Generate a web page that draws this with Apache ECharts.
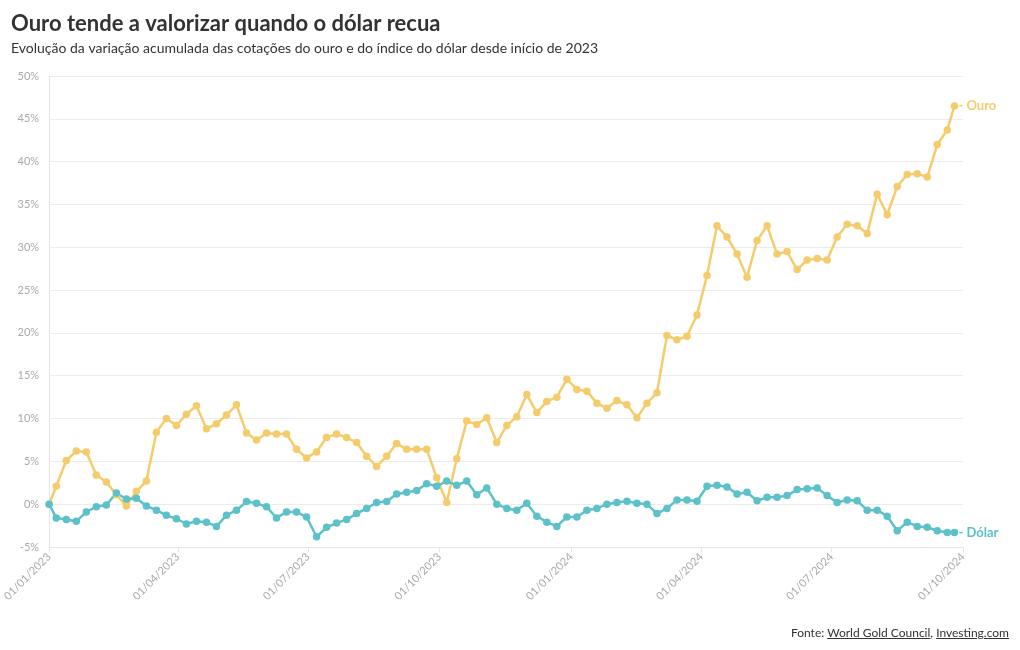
<!DOCTYPE html>
<html>
<head>
<meta charset="utf-8">
<script src="https://cdn.jsdelivr.net/npm/echarts@6/dist/echarts.min.js"></script>
<style>
html,body{margin:0;padding:0;background:#fff;}
#chart{width:1020px;height:650px;}
#src{position:absolute;right:11px;top:625px;font-family:Lato,sans-serif;font-size:12px;color:#333;}
#src u{text-decoration:underline;}
</style>
</head>
<body>
<div id="chart"></div>
<div id="src">Fonte: <u>World Gold Council</u>, <u>Investing.com</u></div>
<script>
const dates = [
"2023-01-01",
"2023-01-06","2023-01-13","2023-01-20","2023-01-27",
"2023-02-03","2023-02-10","2023-02-17","2023-02-24",
"2023-03-03","2023-03-10","2023-03-17","2023-03-24","2023-03-31",
"2023-04-07","2023-04-14","2023-04-21","2023-04-28",
"2023-05-05","2023-05-12","2023-05-19","2023-05-26",
"2023-06-02","2023-06-09","2023-06-16","2023-06-23","2023-06-30",
"2023-07-07","2023-07-14","2023-07-21","2023-07-28",
"2023-08-04","2023-08-11","2023-08-18","2023-08-25",
"2023-09-01","2023-09-08","2023-09-15","2023-09-22","2023-09-29",
"2023-10-06","2023-10-13","2023-10-20","2023-10-27",
"2023-11-03","2023-11-10","2023-11-17","2023-11-24",
"2023-12-01","2023-12-08","2023-12-15","2023-12-22","2023-12-29",
"2024-01-05","2024-01-12","2024-01-19","2024-01-26",
"2024-02-02","2024-02-09","2024-02-16","2024-02-23",
"2024-03-01","2024-03-08","2024-03-15","2024-03-22","2024-03-29",
"2024-04-05","2024-04-12","2024-04-19","2024-04-26",
"2024-05-03","2024-05-10","2024-05-17","2024-05-24","2024-05-31",
"2024-06-07","2024-06-14","2024-06-21","2024-06-28",
"2024-07-05","2024-07-12","2024-07-19","2024-07-26",
"2024-08-02","2024-08-09","2024-08-16","2024-08-23","2024-08-30",
"2024-09-06","2024-09-13","2024-09-20",
"2024-09-25"
];
const ouro = [
0, 2.1, 5.1, 6.2, 6.1, 3.4, 2.6, 1.1, -0.2, 1.5, 2.7, 8.4, 10.0, 9.2, 10.5, 11.5, 8.8, 9.4, 10.4, 11.6,
8.3, 7.5, 8.3, 8.2, 8.2, 6.4, 5.4, 6.1, 7.8, 8.2, 7.8, 7.2, 5.6, 4.4, 5.6, 7.1, 6.4, 6.4, 6.4, 3.1,
0.2, 5.3, 9.7, 9.3, 10.1, 7.2, 9.2, 10.2, 12.8, 10.7, 12.0, 12.5, 14.6, 13.4, 13.2, 11.8, 11.2, 12.1, 11.6, 10.1,
11.8, 13.0, 19.7, 19.2, 19.6, 22.1, 26.7, 32.5, 31.2, 29.2, 26.5, 30.8, 32.5, 29.2, 29.5, 27.4, 28.5, 28.7, 28.5, 31.2,
32.7, 32.5, 31.6, 36.2, 33.8, 37.1, 38.5, 38.6, 38.2, 42.0, 43.7, 46.5
];
const dolar = [
0, -1.6, -1.8, -2.0, -0.9, -0.3, -0.1, 1.3, 0.6, 0.7, -0.2, -0.7, -1.3, -1.7, -2.3, -2.0, -2.1, -2.6, -1.3, -0.7,
0.3, 0.1, -0.3, -1.6, -0.9, -0.9, -1.5, -3.8, -2.7, -2.2, -1.8, -1.1, -0.5, 0.2, 0.3, 1.2, 1.4, 1.6, 2.4, 2.1,
2.7, 2.2, 2.7, 1.1, 1.9, 0.0, -0.5, -0.7, 0.1, -1.4, -2.1, -2.6, -1.5, -1.5, -0.7, -0.5, 0.0, 0.2, 0.35, 0.1,
0.0, -1.1, -0.5, 0.5, 0.5, 0.35, 2.1, 2.2, 2.0, 1.2, 1.4, 0.4, 0.8, 0.8, 1.0, 1.7, 1.8, 1.9, 1.0, 0.2,
0.5, 0.4, -0.7, -0.7, -1.4, -3.1, -2.1, -2.6, -2.7, -3.1, -3.3, -3.3
];
const xTicks = ["2023-01-01","2023-04-01","2023-07-01","2023-10-01","2024-01-01","2024-04-01","2024-07-01","2024-10-01"];
const yMin = -5, yMax = 50, yStep = 5;

const GOLD = "#f5cc6c", TEAL = "#5cc1c8";
const FONT = "Lato, sans-serif";
const toTs = d => Date.UTC(+d.slice(0,4), +d.slice(5,7) - 1, +d.slice(8,10));
const tsTicks = xTicks.map(toTs);
const pad = n => (n < 10 ? "0" : "") + n;
const fmtDate = v => { const d = new Date(v); return pad(d.getUTCDate()) + "/" + pad(d.getUTCMonth() + 1) + "/" + d.getUTCFullYear(); };

const chart = echarts.init(document.getElementById("chart"), null, {renderer: "canvas"});
chart.setOption({
  backgroundColor: "#fff",
  animation: false,
  textStyle: {fontFamily: FONT},
  title: [{
    text: "Ouro tende a valorizar quando o dólar recua",
    left: 6, top: 8,
    textStyle: {fontFamily: FONT, fontSize: 22, fontWeight: "bold", color: "#333"}
  }, {
    text: "Evolução da variação acumulada das cotações do ouro e do índice do dólar desde início de 2023",
    left: 6, top: 36,
    textStyle: {fontFamily: FONT, fontSize: 14, fontWeight: "normal", color: "#333"}
  }],
  grid: {left: 48, right: 57, top: 76, bottom: 103, containLabel: false},
  xAxis: {
    type: "value",
    min: tsTicks[0], max: tsTicks[tsTicks.length - 1],
    axisLine: {show: true, onZero: false, lineStyle: {color: "#e6e6e6"}},
    axisTick: {show: true, length: 5, lineStyle: {color: "#e6e6e6"}, customValues: tsTicks},
    splitLine: {show: false},
    axisLabel: {
      customValues: tsTicks,
      rotate: 45, color: "#aaa", fontSize: 11, fontFamily: FONT, margin: 8,
      formatter: v => fmtDate(v)
    }
  },
  yAxis: {
    type: "value", min: yMin, max: yMax, interval: yStep,
    axisLine: {show: true, lineStyle: {color: "#e6e6e6"}},
    axisTick: {show: false},
    splitLine: {lineStyle: {color: "#ececec"}},
    axisLabel: {color: "#aaa", fontSize: 11, fontFamily: FONT, formatter: "{value}%", margin: 10}
  },
  series: [{
    name: "Ouro", type: "line",
    data: dates.map((d, i) => [toTs(d), ouro[i]]),
    symbol: "circle", symbolSize: 7.5,
    lineStyle: {width: 2.5, color: GOLD}, itemStyle: {color: GOLD},
    endLabel: {show: true, formatter: "- Ouro", color: GOLD, fontWeight: "bold", fontSize: 13, fontFamily: FONT, distance: 4}
  }, {
    name: "Dólar", type: "line",
    data: dates.map((d, i) => [toTs(d), dolar[i]]),
    symbol: "circle", symbolSize: 7.5,
    lineStyle: {width: 2.5, color: TEAL}, itemStyle: {color: TEAL},
    endLabel: {show: true, formatter: "- Dólar", color: TEAL, fontWeight: "bold", fontSize: 13, fontFamily: FONT, distance: 4}
  }]
});
</script>
</body>
</html>
